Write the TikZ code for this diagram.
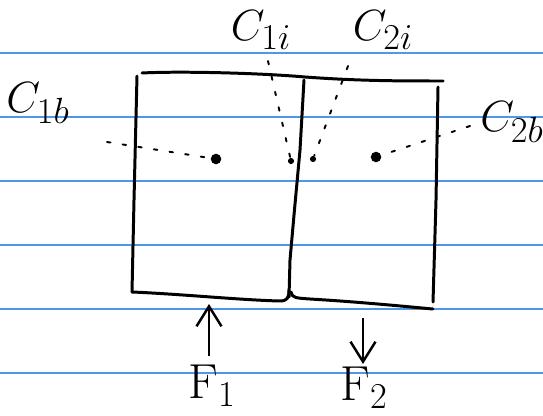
\documentclass[tikz,border=0pt]{standalone}
\usetikzlibrary{arrows.meta, positioning}
\definecolor{rulecolor}{RGB}{80,150,235}
\tikzset{
  wall/.style   = {line width=1.7pt, line cap=round, line join=round},
  ruling/.style = {draw=rulecolor, line width=0.9pt},
  cell/.style   = {circle, fill=black, inner sep=0pt, minimum size=6pt},
  probe/.style  = {circle, fill=black, inner sep=0pt, minimum size=3.5pt},
  lead/.style   = {line width=1.1pt, dash pattern=on 2pt off 7pt, line cap=round},
  force/.style  = {-{Straight Barb[length=4mm, width=5mm, line width=1.4pt]},
                   line width=1.5pt},
  lbl/.style    = {font=\fontsize{28}{30}\selectfont, inner sep=1pt},
}

\begin{document}
\begin{tikzpicture}[x=0.02cm, y=-0.02cm]
  \useasboundingbox (0,0) rectangle (543,415);

  % ruled paper
  \foreach \y in {53,117,181,245,309,373}
    \draw[ruling] (0,\y) -- (543,\y);

  % the two cells
  \draw[wall] (142,73) .. controls (180,71) and (260,73) .. (305,77)
              .. controls (360,81) and (400,81) .. (443,81);
  \draw[wall] (137,76) -- (134,200) -- (132,292);
  \draw[wall] (304,80) -- (300,150) -- (294,215) -- (290,260) -- (289,297);
  \draw[wall] (438,87) -- (436,200) -- (433,302);
  \draw[wall] (132,292) .. controls (180,294) and (240,300) .. (280,301)
              .. controls (287,301) and (289,298) .. (289,290);
  \draw[wall] (291,292) .. controls (292,298) and (296,298) .. (310,299)
              .. controls (360,302) and (400,306) .. (433,309);

  % centroids and interface points
  \node[cell]  (p1b) at (216,159) {};
  \node[probe] (p1i) at (291,161) {};
  \node[probe] (p2i) at (313,159) {};
  \node[cell]  (p2b) at (376,157) {};

  % labels
  \node[lbl] (c1b) at (38,103)  {$C_{1b}$};
  \node[lbl] (c1i) at (261,30)  {$C_{1i}$};
  \node[lbl] (c2i) at (383,30)  {$C_{2i}$};
  \node[lbl] (c2b) at (512,122) {$C_{2b}$};

  \coordinate (e1b) at (107,142);
  \coordinate (e1i) at (268,61);
  \coordinate (e2i) at (348,66);
  \coordinate (e2b) at (470,126);

  \draw[lead] (e1b) -- (p1b);
  \draw[lead] (e1i) -- (p1i);
  \draw[lead] (e2i) -- (p2i);
  \draw[lead] (e2b) -- (p2b);

  % forces
  \node[lbl] (f1) at (212,386) {F$_1$};
  \node[lbl] (f2) at (364,388) {F$_2$};
  \coordinate (f1tip)  at (209,304);
  \coordinate (f1tail) at (209,356);
  \coordinate (f2tail) at (363,318);
  \coordinate (f2tip)  at (363,364);
  \draw[force] (f1tail) -- (f1tip);
  \draw[force] (f2tail) -- (f2tip);
\end{tikzpicture}
\end{document}
